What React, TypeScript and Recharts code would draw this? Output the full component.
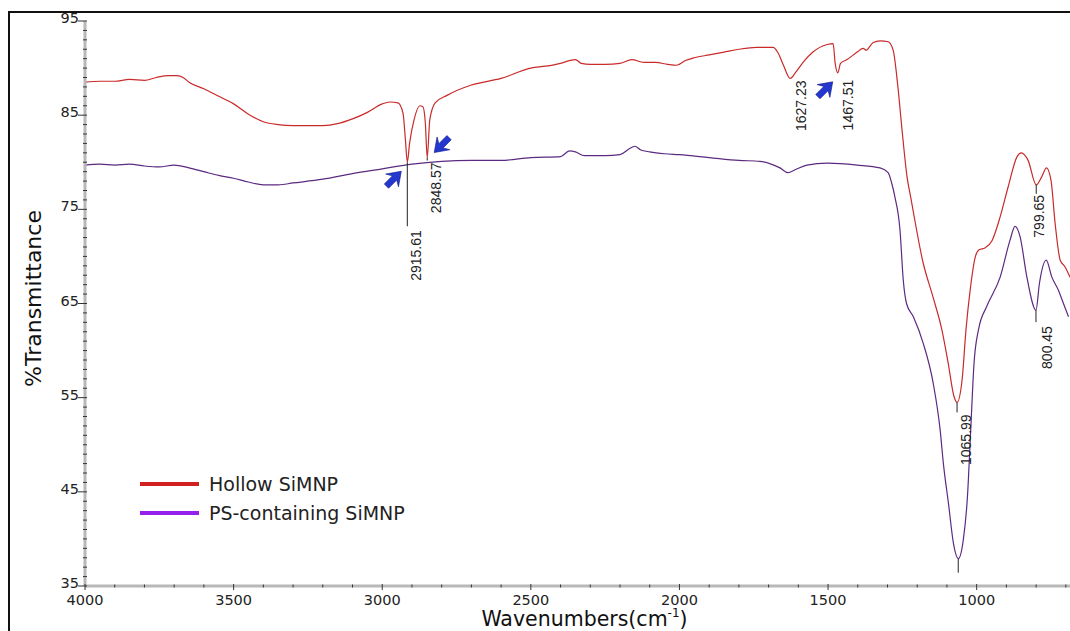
import { LineChart, Line, XAxis, YAxis, ReferenceDot, Legend, Label } from "recharts";

// Hollow SiMNP spectrum (wavenumber, %T)
const hollowWn = [
  4000, 3950, 3900, 3850, 3800, 3760, 3720, 3690, 3670, 3650, 3600, 3550, 3500, 3450, 3400, 3350, 3300,
  3200, 3150, 3100, 3050, 3000, 2974, 2947, 2930, 2922, 2915.61, 2908, 2893, 2873, 2863, 2855, 2848.57,
  2840, 2822, 2782, 2700, 2600, 2500, 2450, 2400, 2370, 2350, 2330, 2300, 2250, 2200, 2160, 2120, 2080,
  2040, 2010, 1980, 1950, 1900, 1850, 1800, 1741, 1685, 1668, 1650, 1627.23, 1608, 1584, 1551, 1503,
  1483, 1476, 1467.51, 1458, 1436, 1402, 1382, 1372, 1349, 1325, 1298, 1281, 1265, 1251, 1234, 1222,
  1180, 1147, 1117, 1096, 1076, 1065.99, 1049, 1036, 1022, 1005, 992, 972, 948, 921, 894, 864, 850,
  827, 799.65, 782, 765, 750, 736, 719, 703, 686,
];
const hollowT = [
  88.5, 88.6, 88.6, 88.8, 88.7, 89.0, 89.2, 89.2, 89.0, 88.5, 87.8, 87.0, 86.2, 85.1, 84.3, 84.0, 83.9,
  83.9, 84.1, 84.6, 85.3, 86.2, 86.4, 86.3, 85.2, 82.4, 80.0, 82.0, 84.5, 86.0, 85.9, 84.2, 80.5,
  84.5, 86.3, 87.1, 88.2, 88.9, 90.0, 90.2, 90.5, 90.8, 90.9, 90.5, 90.4, 90.4, 90.5, 90.9, 90.6, 90.6,
  90.4, 90.3, 90.8, 91.1, 91.4, 91.7, 92.0, 92.2, 92.2, 91.6, 90.3, 88.9, 89.6, 90.6, 91.7, 92.5,
  92.6, 90.5, 89.5, 90.5, 90.9, 91.7, 92.1, 91.9, 92.7, 92.9, 92.8, 91.9, 88.0, 83.4, 78.4, 76.3,
  69.3, 65.7, 62.2, 58.7, 55.1, 54.5, 56.9, 62.2, 66.4, 69.9, 70.7, 70.9, 71.7, 74.2, 77.4, 80.6, 81.0,
  80.2, 77.6, 78.4, 79.4, 78.1, 73.5, 69.6, 68.9, 67.8,
];

// PS-containing SiMNP spectrum (wavenumber, %T)
const psWn = [
  4000, 3950, 3900, 3850, 3800, 3750, 3700, 3650, 3600, 3550, 3500, 3450, 3400, 3350, 3300, 3200, 3100,
  3000, 2900, 2800, 2700, 2600, 2500, 2400, 2370, 2350, 2320, 2250, 2200, 2170, 2150, 2130, 2100, 2050,
  2000, 1900, 1800, 1729, 1662, 1635, 1611, 1571, 1503, 1402, 1325, 1298, 1286, 1275, 1258, 1247, 1236,
  1213, 1180, 1146, 1123, 1112, 1095, 1078, 1062, 1045, 1031, 1020, 1009, 994, 966, 921, 888, 871, 854,
  831, 800.45, 789, 766, 747, 725, 708, 691,
];
const psT = [
  79.7, 79.8, 79.7, 79.8, 79.6, 79.5, 79.7, 79.4, 79.0, 78.6, 78.3, 77.9, 77.6, 77.6, 77.8, 78.2, 78.8,
  79.3, 79.8, 80.1, 80.2, 80.2, 80.5, 80.6, 81.2, 81.1, 80.7, 80.7, 80.8, 81.4, 81.7, 81.3, 81.1, 80.9,
  80.8, 80.5, 80.2, 80.1, 79.4, 78.9, 79.2, 79.7, 79.9, 79.7, 79.4, 78.9, 77.8, 76.3, 72.8, 67.5, 65.0,
  63.6, 60.8, 56.5, 51.6, 48.0, 43.8, 39.5, 37.9, 39.9, 44.5, 51.6, 58.6, 62.2, 64.7, 67.8, 71.7, 73.2, 72.1,
  67.8, 64.3, 67.1, 69.6, 67.8, 66.4, 65.0, 63.6,
];

const seriesNames = ["Hollow SiMNP", "PS-containing SiMNP"];

// peak annotations
const peakLabels = ["2915.61", "2848.57", "1627.23", "1467.51", "1065.99", "799.65", "800.45", ""];
const peakWn = [2915.61, 2848.57, 1627.23, 1467.51, 1065.99, 799.65, 800.45, 1062];
const peakT = [80.0, 80.5, 88.9, 89.5, 54.5, 77.6, 64.3, 37.9];

// stem length / gap / sideways shift for each annotation
const peakStem = [64, 3, 0, 0, 10, 9, 12, 14];
const peakGap = [4, 2, 2, 7, 2, 1, 4, 0];
const peakShift = [9, 9, 11, 10, 9, 3, 11, 0];

// arrows point at peaks 0, 1 and 3
const arrowPeak = [0, 1, 3];
const arrowDx = [-6, 7, -5];
const arrowDy = [9, -5, 9];
const arrowAngle = [-45, 135, -45];

const xMajor = [4000, 3500, 3000, 2500, 2000, 1500, 1000];
const yMajor = [95, 85, 75, 65, 55, 45, 35];

const xTicks = Array.from({ length: 34 }, (_, i) => 4000 - i * 100);
const yTicks = Array.from({ length: 61 }, (_, i) => 35 + i);

const hollowData = hollowWn.map((w, i) => ({ w, t: hollowT[i] }));
const psData = psWn.map((w, i) => ({ w, t: psT[i] }));

const lineColors = ["#c92a2a", "#5c2a80"];
const legendColors = ["#d21f1f", "#9420ea"];

const FONT = "'DejaVu Sans', Verdana, sans-serif";

const XTick = ({ x, y, payload }: any) => {
  const major = xMajor.includes(payload.value);
  return (
    <g>
      <line x1={x} x2={x} y1={major ? y - 2 : y - 1.5} y2={major ? y + 4 : y + 1.5} stroke="#333" strokeWidth={1} />
      {major && (
        <text x={x} y={y + 14} textAnchor="middle" dominantBaseline="central" fontFamily={FONT} fontSize={14.5} fill="#222">
          {payload.value}
        </text>
      )}
    </g>
  );
};

const YTick = ({ x, y, payload }: any) => {
  const major = yMajor.includes(payload.value);
  return (
    <g>
      <line x1={major ? x - 7 : x - 2} x2={x + 2} y1={y} y2={y} stroke="#333" strokeWidth={1} />
      {major && (
        <text x={x - 6} y={y - 3} textAnchor="end" dominantBaseline="central" fontFamily={FONT} fontSize={14.5} fill="#222">
          {payload.value}
        </text>
      )}
    </g>
  );
};

const PeakMark = ({ cx, cy, i }: any) => {
  const stem = peakStem[i];
  return (
    <g>
      {stem > 0 && <line x1={cx} x2={cx} y1={cy} y2={cy + stem} stroke="#222" strokeWidth={1} />}
      {peakLabels[i] && (
        <text
          transform={`translate(${cx + peakShift[i]},${cy + stem + peakGap[i]}) rotate(-90)`}
          textAnchor="end"
          dominantBaseline="central"
          fontFamily="'Liberation Sans', Arial, sans-serif"
          fontSize={14}
          fill="#222"
        >
          {peakLabels[i]}
        </text>
      )}
    </g>
  );
};

const Arrow = ({ cx, cy, k }: any) => (
  <polygon
    points="0,0 -13,-9 -9.5,-3 -21,-3 -21,3 -9.5,3 -13,9"
    transform={`translate(${cx + arrowDx[k]},${cy + arrowDy[k]}) rotate(${arrowAngle[k]})`}
    fill="#2438d0"
    stroke="#0d1a8c"
    strokeWidth={0.6}
  />
);

const renderLegend = () => (
  <div>
    {seriesNames.map((name, i) => (
      <div key={name} style={{ display: "flex", alignItems: "center", height: 29 }}>
        <span style={{ display: "inline-block", width: 59, height: 4, background: legendColors[i], marginRight: 10 }} />
        <span style={{ fontFamily: FONT, fontSize: 19, color: "#222", whiteSpace: "nowrap" }}>{name}</span>
      </div>
    ))}
  </div>
);

const App = () => {
  return (
    <div style={{ position: "relative", width: 1070, height: 631, overflow: "hidden", background: "#fff" }}>
      <style>{"body{margin:0;overflow:hidden}"}</style>
      <div
        style={{
          position: "absolute",
          left: 8,
          top: 11,
          width: 1070,
          height: 640,
          borderTop: "2px solid #111",
          borderLeft: "2px solid #111",
        }}
      />
      <div style={{ position: "absolute", left: 10, top: 3 }}>
        <LineChart width={1060} height={628} margin={{ top: 18, right: 0, bottom: 0, left: 0 }}>
          <XAxis
            type="number"
            dataKey="w"
            domain={[686, 4000]}
            reversed
            allowDataOverflow
            ticks={xTicks}
            interval={0}
            tickSize={0}
            tickMargin={0}
            tickLine={false}
            height={45}
            axisLine={{ stroke: "#b8b8b8", strokeWidth: 3 }}
            tick={<XTick />}
          >
            <Label
              content={({ viewBox }: any) => (
                <text
                  x={viewBox.x + viewBox.width / 2 + 7}
                  y={viewBox.y + 33}
                  textAnchor="middle"
                  dominantBaseline="central"
                  fontFamily={FONT}
                  fontSize={20.5}
                  fill="#111"
                >
                  <tspan>Wavenumbers(cm</tspan>
                  <tspan fontSize={12} dy={-6}>
                    -1
                  </tspan>
                  <tspan dy={6}>)</tspan>
                </text>
              )}
            />
          </XAxis>
          <YAxis
            type="number"
            domain={[35, 95]}
            allowDataOverflow
            ticks={yTicks}
            interval={0}
            tickSize={0}
            tickMargin={0}
            tickLine={false}
            width={75}
            axisLine={{ stroke: "#b8b8b8", strokeWidth: 3 }}
            tick={<YTick />}
          >
            <Label
              content={({ viewBox }: any) => (
                <text
                  transform={`translate(${viewBox.x + 23},${viewBox.y + viewBox.height / 2 - 5}) rotate(-90)`}
                  textAnchor="middle"
                  dominantBaseline="central"
                  fontFamily={FONT}
                  fontSize={22}
                  fill="#111"
                >
                  %Transmittance
                </text>
              )}
            />
          </YAxis>
          <Legend
            layout="horizontal"
            verticalAlign="middle"
            align="center"
            wrapperStyle={{ left: 130, top: 466, width: 320, height: 60 }}
            content={renderLegend}
          />
          <Line
            data={hollowData}
            dataKey="t"
            name={seriesNames[0]}
            type="monotone"
            stroke={lineColors[0]}
            strokeWidth={1.2}
            dot={false}
            isAnimationActive={false}
          />
          <Line
            data={psData}
            dataKey="t"
            name={seriesNames[1]}
            type="monotone"
            stroke={lineColors[1]}
            strokeWidth={1.2}
            dot={false}
            isAnimationActive={false}
          />
          {peakWn.map((w, i) => (
            <ReferenceDot key={`p${i}`} x={w} y={peakT[i]} shape={(p: any) => <PeakMark {...p} i={i} />} />
          ))}
          {arrowPeak.map((pi, k) => (
            <ReferenceDot
              key={`a${k}`}
              x={peakWn[pi]}
              y={peakT[pi]}
              shape={(p: any) => <Arrow {...p} k={k} />}
            />
          ))}
        </LineChart>
      </div>
    </div>
  );
};

export default App;
